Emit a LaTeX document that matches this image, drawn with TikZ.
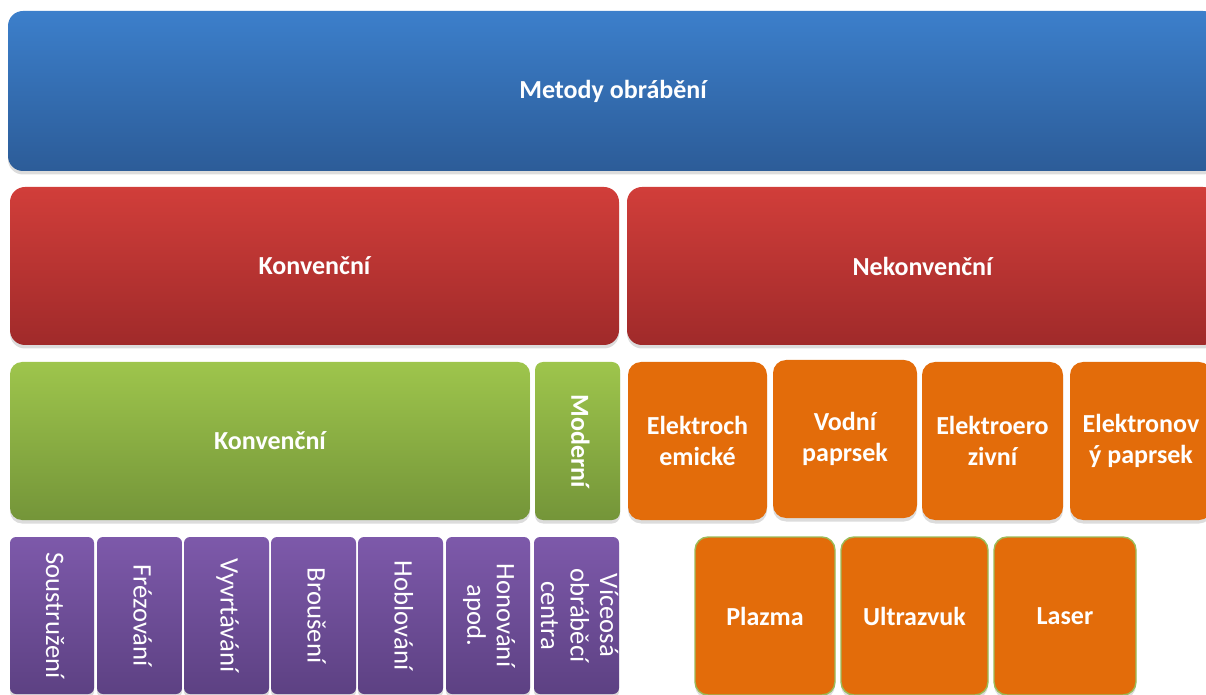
\documentclass[tikz,border=0pt]{standalone}
\usepackage{fontspec}
\setmainfont{Carlito}
\usepackage{graphicx}
\usetikzlibrary{shadows}

\definecolor{blueTop}{RGB}{60,127,203}
\definecolor{blueBot}{RGB}{44,92,152}
\definecolor{redTop}{RGB}{209,62,58}
\definecolor{redBot}{RGB}{160,42,42}
\definecolor{greenTop}{RGB}{158,197,76}
\definecolor{greenBot}{RGB}{116,149,57}
\definecolor{purpleTop}{RGB}{125,89,170}
\definecolor{purpleBot}{RGB}{93,65,131}
\definecolor{orangeFill}{RGB}{227,108,10}
\definecolor{greenEdge}{RGB}{155,187,89}

% text running downwards, first line on the right
\newcommand{\vtext}[1]{\makebox[0pt]{\rotatebox{-90}{\begin{tabular}{@{}c@{}}#1\end{tabular}}}}

\begin{document}
\begin{tikzpicture}[
  x=0.02cm, y=-0.02cm,
  every node/.style={align=center, text=white, inner sep=2pt,
    font=\fontsize{14.8}{17.5}\selectfont\bfseries,
    drop shadow={opacity=0.28, shadow xshift=0pt, shadow yshift=-0.07cm}},
  box/.style 2 args={minimum width=#1*0.02cm, minimum height=#2*0.02cm},
  topbox/.style={top color=blueTop, bottom color=blueBot, rounded corners=0.3cm},
  mainbox/.style={top color=redTop, bottom color=redBot, rounded corners=0.3cm},
  subbox/.style={top color=greenTop, bottom color=greenBot, rounded corners=0.24cm},
  procbox/.style={top color=purpleTop, bottom color=purpleBot, rounded corners=0.12cm,
    font=\fontsize{15.2}{16.8}\selectfont},
  nonconv/.style={fill=orangeFill, rounded corners=0.26cm},
  nonconvlow/.style={fill=orangeFill, draw=greenEdge, line width=0.8pt, rounded corners=0.26cm}
]
\useasboundingbox (0,0) rectangle (1206,695);
\clip (0,0) rectangle (1206,695);

\node[topbox, box={1210}{160}] (methods) at (613,91) {Metody obrábění};

\node[mainbox, box={609}{158}] (conv)    at (314.5,266) {Konvenční};
\node[mainbox, box={591}{158}] (nonconv) at (922.5,266) {Nekonvenční};

\node[subbox, box={520}{158}] (classic) at (270,441) {Konvenční};
\node[subbox, box={85}{158}, rounded corners=0.16cm] (modern) at (577.5,441) {\vtext{Moderní}};

\node[nonconv, box={139}{158}] (echem)  at (697.5,441) {Elektroch\\emické};
\node[nonconv, box={144}{158}] (water)  at (845,439)   {Vodní\\paprsek};
\node[nonconv, box={141}{158}] (edm)    at (992.5,441) {Elektroero\\zivní};
\node[nonconv, box={142}{158}] (ebeam)  at (1141,441)  {Elektronov\\ý paprsek};

\node[procbox, box={84}{157}] (turning)  at (52,615.5)    {\vtext{Soustružení}};
\node[procbox, box={85}{157}] (milling)  at (139.5,615.5) {\vtext{Frézování}};
\node[procbox, box={85}{157}] (boring)   at (226.5,615.5) {\vtext{Vyvrtávání}};
\node[procbox, box={85}{157}] (grinding) at (313.5,615.5) {\vtext{Broušení}};
\node[procbox, box={85}{157}] (planing)  at (400.5,615.5) {\vtext{Hoblování}};
\node[procbox, box={84}{157}] (honing)   at (488,615.5)   {\vtext{Honování\\apod.}};
\node[procbox, box={85}{157}] (centres)  at (576.5,615.5) {\vtext{Víceosá\\obráběcí\\centra}};

\node[nonconvlow, box={140}{158}] (plasma)     at (765,616)    {Plazma};
\node[nonconvlow, box={147}{158}] (ultrasound) at (914.5,616)  {Ultrazvuk};
\node[nonconvlow, box={142}{158}] (laser)      at (1065,616)   {Laser};
\end{tikzpicture}
\end{document}
